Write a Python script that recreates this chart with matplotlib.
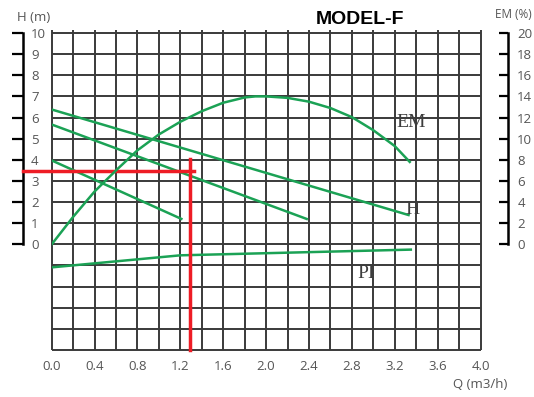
import numpy as np
import matplotlib
matplotlib.use("Agg")
import matplotlib.pyplot as plt

# ---- data ----
q_ticks = [0.0, 0.4, 0.8, 1.2, 1.6, 2.0, 2.4, 2.8, 3.2, 3.6, 4.0]
q_labels = ["0.0", "0.4", "0.8", "1.2", "1.6", "2.0", "2.4", "2.8", "3.2", "3.6", "4.0"]
h_ticks = [0, 1, 2, 3, 4, 5, 6, 7, 8, 9, 10]
em_ticks = [0, 2, 4, 6, 8, 10, 12, 14, 16, 18, 20]

# efficiency curve (EM %)
em_q = [0.0, 0.2, 0.4, 0.6, 0.8, 1.0, 1.2, 1.4, 1.6, 1.8, 1.9, 2.0, 2.2, 2.4, 2.6, 2.8, 3.0, 3.2, 3.34]
em_pct = [0.0, 2.6, 5.0, 7.0, 8.9, 10.4, 11.6, 12.6, 13.4, 13.9, 14.0, 14.0, 13.86, 13.5, 12.9, 12.04, 10.8, 9.3, 7.8]

# head curves (m)
h1_q = [0.0, 3.34]
h1_h = [6.38, 1.37]
h2_q = [0.0, 2.39]
h2_h = [5.67, 1.18]
h3_q = [0.0, 1.22]
h3_h = [3.97, 1.18]

# power curve (drawn in chart units, no own scale)
pi_q = [0.0, 1.2, 3.35]
pi_v = [-1.09, -0.52, -0.25]

# operating point marker (red)
op_q = 1.29
op_h = 3.49
op_h_top = 4.03
op_q_right = 1.326

green = "#1ba255"
red = "#ee1c25"
gridc = "#3a3a3a"
tickc = "#555555"

W, H = 534, 397
fig = plt.figure(figsize=(W / 100, H / 100), dpi=100)
x0, x1, y0, y1 = 51.7, 480.5, 33.0, 350.0
ax = fig.add_axes([x0 / W, 1 - y1 / H, (x1 - x0) / W, (y1 - y0) / H])
ax.set_xlim(0, 4)
ax.set_ylim(-5, 10)
ax.patch.set_alpha(0)

# grid
ax.vlines(np.arange(0, 4.001, 0.2), -5, 10.15, colors=gridc, lw=1.4, clip_on=False, zorder=1)
ax.hlines(np.arange(-5, 10.001, 1), 0, 4, colors=gridc, lw=1.4, clip_on=False, zorder=1)

for s in ["top", "bottom", "right"]:
    ax.spines[s].set_visible(False)
ax.spines["left"].set_position(("outward", 29 * 0.72))
ax.spines["left"].set_bounds(0, 10)
ax.spines["left"].set_linewidth(1.8)
ax.set_yticks(h_ticks)
ax.set_yticklabels([str(v) for v in h_ticks], ha="left", family="Open Sans")
ax.tick_params(axis="y", direction="out", length=8, width=1.6, pad=-(8 + 6.0),
               labelsize=9.5, labelcolor=tickc)
ax.set_xticks(q_ticks)
ax.set_xticklabels(q_labels, family="Open Sans")
ax.tick_params(axis="x", length=0, pad=7, labelsize=9.5, labelcolor=tickc)

# head curves
for qq, hh in [(h1_q, h1_h), (h2_q, h2_h), (h3_q, h3_h)]:
    ax.plot(qq, hh, color=green, lw=1.8, zorder=3, solid_capstyle="butt")
ax.plot(pi_q, pi_v, color=green, lw=1.8, zorder=3)

# red operating point
ax.plot([-0.27, op_q_right], [op_h, op_h], color=red, lw=2.5, clip_on=False, zorder=5)
ax.plot([op_q, op_q], [-5, op_h_top], color=red, lw=2.5, clip_on=False, zorder=5)

# curve labels
serif = "Liberation Serif"
ax.text(3.22, 5.77, "EM", family=serif, fontsize=14, color="#3d3d3d", va="center", ha="left", zorder=4)
ax.text(3.30, 1.66, "H", family=serif, fontsize=14, color="#3d3d3d", va="center", ha="left", zorder=4)
ax.text(2.85, -1.37, "PI", family=serif, fontsize=14, color="#3d3d3d", va="center", ha="left", zorder=4)

# right EM axis
ax2 = ax.twinx()
ax2.set_ylim(-10, 20)
for s in ["top", "bottom", "left"]:
    ax2.spines[s].set_visible(False)
ax2.spines["right"].set_position(("outward", 27 * 0.72))
ax2.spines["right"].set_bounds(0, 20)
ax2.spines["right"].set_linewidth(1.8)
ax2.set_yticks(em_ticks)
ax2.set_yticklabels([str(v) for v in em_ticks], family="Open Sans")
ax2.tick_params(axis="y", direction="in", length=6.5, width=1.6, pad=7,
                labelsize=9.5, labelcolor=tickc)
ax2.plot(em_q, em_pct, color=green, lw=1.8, zorder=3)

# titles / axis names
def ftext(px, py, s, **kw):
    fig.text(px / W, 1 - py / H, s, va="center", **kw)

ftext(316, 19.5, "MODEL-F", fontsize=14, weight="bold", family="Liberation Sans", color="black")
ftext(17, 17.5, "H (m)", fontsize=9.5, family="Open Sans", color=tickc)
ftext(495, 15, "EM (%)", fontsize=8.5, family="Open Sans", color=tickc)
ftext(453, 385, "Q (m3/h)", fontsize=9.5, family="Open Sans", color=tickc)

fig.savefig("out.png", dpi=100)
